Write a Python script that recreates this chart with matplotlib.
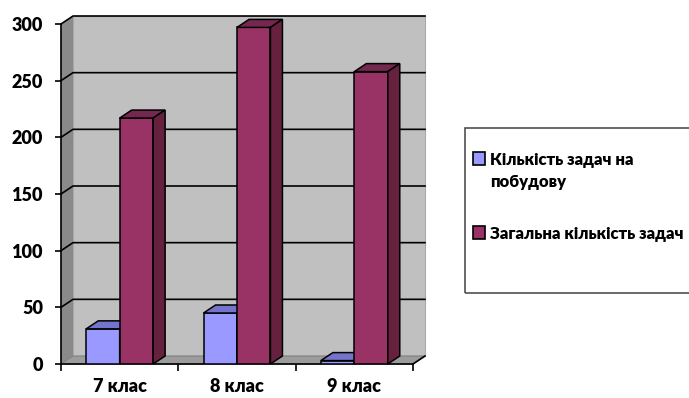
import numpy as np
import matplotlib.pyplot as plt
from matplotlib.patches import Polygon, Rectangle
from matplotlib.lines import Line2D
from matplotlib.transforms import IdentityTransform

classes = ['7 клас', '8 клас', '9 клас']
construct_tasks = [31, 45, 3]      # Кількість задач на побудову
total_tasks = [217, 297, 258]      # Загальна кількість задач
series_labels = ['Кількість задач на\nпобудову', 'Загальна кількість задач']
y_ticks = [0, 50, 100, 150, 200, 250, 300]

plt.rcParams['font.family'] = ['Lato', 'DejaVu Sans']
plt.rcParams['font.weight'] = 'heavy'

W, H = 689, 398
fig = plt.figure(figsize=(W / 100, H / 100), dpi=100)
ax = fig.add_axes([61 / W, 34 / H, 352 / W, 340 / H])
ax.set_xlim(-0.5, 2.5)
ax.set_ylim(0, 300)
ax.patch.set_visible(False)

DX, DY = 12, 8   # глибина псевдо-3D коробки, пікселі
BW = 0.285       # ширина стовпчика
ident = IdentityTransform()


def px(xs, ys, depth=0, trans=None):
    # точки даних -> пікселі, зсунуті вглиб
    trans = trans or ax.transData
    p = trans.transform(np.column_stack([xs, ys]))
    p[:, 0] += np.asarray(depth) * DX
    p[:, 1] += np.asarray(depth) * DY
    return p


def poly(xs, ys, depth, fc, ec='black', lw=1.1, z=1, trans=None):
    ax.add_patch(Polygon(px(xs, ys, depth, trans), closed=True, transform=ident,
                         fc=fc, ec=ec, lw=lw, zorder=z, clip_on=False))


def line(xs, ys, depth, color='black', lw=1.2, z=1.5, trans=None):
    p = px(xs, ys, depth, trans)
    ax.add_line(Line2D(p[:, 0], p[:, 1], transform=ident, color=color, lw=lw,
                       zorder=z, clip_on=False))


# стінки і підлога
poly([0, 1, 1, 0], [0, 0, 1, 1], 1, '#c0c0c0', ec='#a8a8a8', lw=0.8, z=0.1, trans=ax.transAxes)
poly([0, 0, 0, 0], [0, 1, 1, 0], [0, 0, 1, 1], '#8a8a8a', ec='none', z=0.2, trans=ax.transAxes)
poly([0, 1, 1, 0], [0, 0, 0, 0], [0, 0, 1, 1], '#9c9c9c', ec='#808080', lw=0.8, z=0.2, trans=ax.transAxes)

for v in y_ticks[1:]:
    line([-0.5, -0.5, 2.5], [v, v, v], [0, 1, 1])
line([2.5, 2.5], [0, 0], [0, 1])

# стовпчики
x = np.arange(len(classes))
offs = [-BW / 2, BW / 2]
colors = [('#9999ff', '#7474cc', '#6a6ab0'), ('#993366', '#742850', '#66213f')]
for k, (vals, (front, top, side)) in enumerate(zip([construct_tasks, total_tasks], colors)):
    z = 3 + k
    ax.bar(x + offs[k], vals, BW, color=front, edgecolor='black', lw=1.1, zorder=z)
    for xi, v in zip(x + offs[k], vals):
        x0, x1 = xi - BW / 2, xi + BW / 2
        poly([x0, x1, x1, x0], [v, v, v, v], [0, 0, 1, 1], top, z=z)
        poly([x1, x1, x1, x1], [0, v, v, 0], [0, 0, 1, 1], side, z=z)

for s in ['top', 'right']:
    ax.spines[s].set_visible(False)
for s in ['left', 'bottom']:
    ax.spines[s].set_linewidth(1.2)
    ax.spines[s].set_zorder(2)

ax.set_yticks(y_ticks)
ax.tick_params(axis='y', direction='out', length=4, width=1.2, pad=9, labelsize=13)
ax.set_xticks([-0.5, 0.5, 1.5, 2.5])
ax.set_xticklabels([])
ax.set_xticks(x, classes, minor=True)
ax.tick_params(axis='x', which='major', direction='out', length=5, width=1.2)
ax.tick_params(axis='x', which='minor', length=0, pad=10, labelsize=13)
ax.set_xlim(-0.5, 2.5)
ax.set_ylim(0, 300)

# легенда
fig.add_artist(Rectangle((465 / W, 1 - 293 / H), 240 / W, 165 / H, transform=fig.transFigure,
                         fill=False, ec='#505050', lw=1.2))
for (fc, _, _), label, ytop in zip(colors, series_labels, [152, 226]):
    fig.add_artist(Rectangle((473 / W, 1 - (ytop + 13) / H), 12 / W, 13 / H,
                             transform=fig.transFigure, fc=fc, ec='black', lw=1.2))
    fig.text(490 / W, 1 - ytop / H, label, va='top', ha='left',
             fontsize=12, linespacing=1.45)

fig.savefig('out.png', dpi=100)
